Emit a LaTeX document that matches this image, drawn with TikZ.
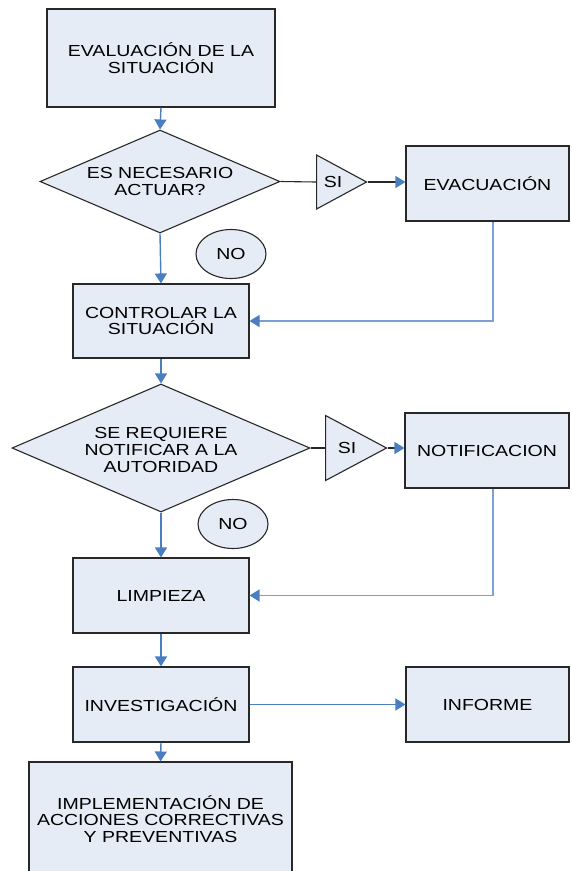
\documentclass[tikz,border=0pt]{standalone}
\usepackage{fontspec}
\setmainfont[FakeStretch=1.22]{Liberation Sans}
\usetikzlibrary{shapes.geometric,arrows.meta}
\definecolor{boxfill}{RGB}{230,236,246}
\definecolor{flowblue}{RGB}{74,126,193}
\definecolor{backblue}{RGB}{125,160,212}
\definecolor{edgegray}{RGB}{40,40,40}
\newcommand\flowfont{\fontsize{16}{16.8}\selectfont}
\tikzset{
  stepbox/.style={rectangle, draw=edgegray, fill=boxfill, line width=1.1pt,
    inner sep=0pt, align=center, font=\flowfont},
  decision/.style={diamond, draw=edgegray, fill=boxfill, line width=1.1pt,
    inner sep=0pt},
  answer/.style={isosceles triangle, isosceles triangle stretches,
    shape border rotate=0, draw=edgegray, fill=boxfill, line width=1.1pt,
    inner sep=0pt, anchor=lower side},
  bubble/.style={ellipse, draw=edgegray, fill=boxfill, line width=1.1pt,
    inner sep=0pt, minimum width=70pt, minimum height=49pt, font=\flowfont},
  label/.style={align=center, font=\flowfont, inner sep=0pt},
  flow/.style={draw=flowblue, line width=1.4pt, -{Triangle[length=10pt,width=12pt]}},
  back/.style={draw=backblue, line width=1.4pt,
    -{Triangle[length=10pt,width=12pt,color=flowblue]}},
  link/.style={draw=edgegray, line width=1.1pt},
  linkarrow/.style={draw=edgegray, line width=1.1pt,
    -{Triangle[length=10pt,width=12pt,color=flowblue]}},
}
\begin{document}
\begin{tikzpicture}[x=1pt,y=-1pt]
  \useasboundingbox (0,0) rectangle (571,871);
  \clip (0,0) rectangle (571,871);

  % main column
  \node[stepbox, minimum width=228pt, minimum height=98pt] (eval) at (161,58)
    {EVALUACIÓN DE LA\\SITUACIÓN};
  \node[decision, minimum width=240pt, minimum height=103pt] (d1) at (160,181.5) {};
  \node[label] (d1txt) at (d1.center) {ES NECESARIO\\ACTUAR?};
  \node[stepbox, minimum width=176pt, minimum height=74pt] (ctrl) at (161,321)
    {CONTROLAR LA\\SITUACIÓN};
  \node[decision, minimum width=298pt, minimum height=128pt] (d2) at (161,448) {};
  \node[label] (d2txt) at (161,450) {SE REQUIERE\\NOTIFICAR A LA\\AUTORIDAD};
  \node[stepbox, minimum width=176pt, minimum height=75pt] (limp) at (161,595.5)
    {LIMPIEZA};
  \node[stepbox, minimum width=176pt, minimum height=75pt] (inv) at (161,704.5)
    {INVESTIGACIÓN};
  \node[stepbox, minimum width=263pt, minimum height=114pt] (impl) at (160.5,819)
    {IMPLEMENTACIÓN DE\\ACCIONES CORRECTIVAS\\Y PREVENTIVAS};

  % side branches
  \node[answer, minimum width=54pt, minimum height=50pt] (t1) at (316,182) {};
  \node[label] (t1txt) at (333,182) {SI};
  \node[stepbox, minimum width=163pt, minimum height=75pt] (evac) at (487.5,183.5)
    {EVACUACIÓN};
  \node[answer, minimum width=65pt, minimum height=61pt] (t2) at (325,448) {};
  \node[label] (t2txt) at (347,448) {SI};
  \node[stepbox, minimum width=164pt, minimum height=75pt] (notif) at (487,450.5)
    {NOTIFICACION};
  \node[stepbox, minimum width=163pt, minimum height=75pt] (inf) at (487.5,704.5)
    {INFORME};

  % "NO" markers
  \node[bubble] (no1) at (231,254) {NO};
  \node[bubble] (no2) at (233,524) {NO};

  % vertical flow
  \draw[flow] (eval.south) -- (d1.north);
  \draw[flow] (d1.south) -- (ctrl.north);
  \draw[flow] (ctrl.south) -- (d2.north);
  \draw[flow] (d2.south) -- (limp.north);
  \draw[flow] (limp.south) -- (inv.north);
  \draw[flow] (inv.south) -- (impl.north);
  \draw[flow] (inv.east) -- (inf.west);

  % yes branches
  \draw[link] (d1.east) -- (t1.lower side);
  \draw[linkarrow] (t1.apex) -- (evac.west |- t1.apex);
  \draw[link] (d2.east) -- (t2.lower side);
  \draw[linkarrow] (t2.apex) -- (notif.west |- t2.apex);

  % return paths
  \coordinate (evacdrop) at (493,0);
  \coordinate (notifdrop) at (493,0);
  \draw[back] (evacdrop |- evac.south) |- (ctrl.east);
  \draw[back] (notifdrop |- notif.south) |- (limp.east);
\end{tikzpicture}
\end{document}
